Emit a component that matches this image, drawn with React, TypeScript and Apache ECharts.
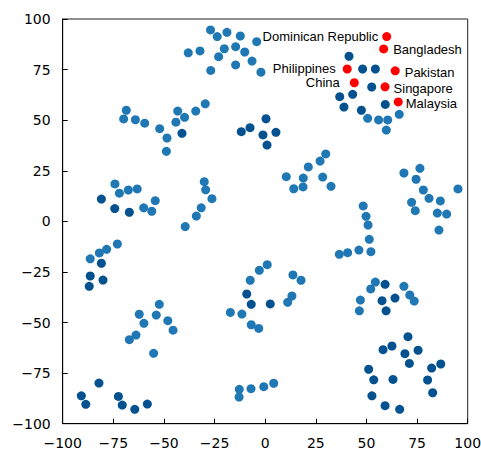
import React, { useEffect, useRef } from "react";
import * as echarts from "echarts";

const xTicks = [-100, -75, -50, -25, 0, 25, 50, 75, 100];
const yTicks = [-100, -75, -50, -25, 0, 25, 50, 75, 100];

const lightPoints: [number, number][] = [
  [-27.0, 94.6], [-23.7, 91.3], [-18.9, 93.4], [-12.3, 91.6], [-4.2, 88.8],
  [-38.0, 83.3], [-32.2, 84.2], [-20.2, 85.3], [-14.6, 86.3], [-10.1, 83.7],
  [-23.0, 81.4], [-14.6, 77.3], [-6.5, 79.2], [-26.9, 74.6], [-2.1, 73.7],
  [-68.6, 54.9], [-69.9, 50.6], [-64.1, 50.2], [-59.5, 48.5], [-52.1, 45.8],
  [-48.5, 41.2], [-48.8, 34.6], [-43.2, 54.5], [-39.8, 51.4], [-44.1, 49.0],
  [-34.3, 54.5], [-29.6, 58.1],
  [-74.2, 18.5], [-72.0, 13.9], [-67.6, 15.5], [-63.2, 16.0], [-60.0, 6.7],
  [-56.0, 5.0], [-54.3, 10.2], [-30.1, 19.6], [-29.4, 15.6], [-26.3, 11.2],
  [-31.6, 6.7], [-34.0, 2.6], [-39.5, -2.6],
  [50.6, 50.9], [56.0, 50.1], [60.5, 50.1], [66.2, 52.9], [59.8, 45.1],
  [29.9, 33.3], [27.1, 29.8], [21.3, 26.9], [10.4, 22.1], [18.8, 21.4],
  [28.4, 21.9], [14.1, 16.1], [18.7, 17.0], [32.5, 17.3],
  [68.5, 23.9], [76.4, 26.2], [74.5, 20.8], [78.1, 15.5], [80.9, 11.4],
  [86.5, 10.1], [95.2, 16.0], [72.3, 9.4], [74.1, 5.3], [85.0, 4.1], [89.6, 3.6],
  [48.4, 7.6], [49.8, 2.5], [50.8, -1.8], [51.4, -8.9], [46.3, -14.2],
  [52.2, -15.0], [36.6, -16.3], [40.7, -15.5], [85.8, -4.3],
  [-86.4, -18.5], [-81.9, -15.6], [-78.3, -13.8], [-73.0, -11.2],
  [-62.2, -45.9], [-53.8, -46.3], [-52.3, -41.0], [-59.9, -50.4], [-48.1, -49.1],
  [-45.5, -53.8], [-63.8, -56.2], [-67.1, -58.5], [-55.1, -65.2],
  [-17.2, -45.0], [-11.5, -45.8], [-7.4, -29.1], [-2.9, -24.2], [1.0, -21.4],
  [-6.9, -51.1], [-3.2, -52.9],
  [-12.8, -83.0], [-12.9, -86.8], [-7.0, -82.7], [-0.7, -81.7], [4.2, -80.0],
  [13.7, -26.5], [17.7, -29.1], [13.2, -36.9], [11.1, -40.0],
  [54.4, -30.0], [52.1, -33.4], [47.0, -38.9], [46.5, -44.2],
  [68.5, -32.1], [71.4, -36.4], [73.6, -39.4],
];

const darkPoints: [number, number][] = [
  [-41.1, 43.5],
  [-11.8, 44.3], [-7.5, 46.3], [-1.1, 42.7], [0.4, 50.7], [0.9, 37.7], [5.3, 44.0],
  [-80.9, 11.0], [-74.3, 6.3], [-67.1, 4.5],
  [41.4, 81.6], [48.1, 75.3], [54.4, 75.3], [52.6, 66.4], [43.2, 62.8],
  [36.8, 61.6], [38.9, 56.5], [59.3, 57.8], [47.5, 54.9],
  [-80.9, -20.7], [-86.4, -27.0], [-86.9, -32.1], [-80.1, -29.0],
  [-90.8, -86.2], [-88.6, -90.4], [-82.1, -79.9], [-72.5, -86.5], [-70.6, -90.8],
  [-64.4, -92.9], [-58.2, -90.3],
  [-9.1, -35.9], [-6.9, -41.0], [2.5, -40.8],
  [59.2, -31.1], [57.7, -39.2], [64.1, -37.9], [59.7, -44.2],
  [70.5, -57.0], [58.2, -63.4], [62.6, -61.6], [69.0, -65.4], [75.5, -63.7],
  [71.2, -70.2], [82.2, -72.5], [86.7, -70.5], [51.1, -73.1], [53.6, -78.3],
  [63.1, -78.1], [80.2, -78.4], [82.7, -84.7], [52.7, -86.2], [59.2, -91.1],
  [66.4, -92.9],
];

const countries = ["Dominican Republic", "Bangladesh", "Philippines", "Pakistan", "China", "Singapore", "Malaysia"];
const countryX = [60.0, 58.5, 40.5, 64.2, 44.0, 59.2, 65.7];
const countryY = [91.3, 85.2, 75.3, 74.4, 68.5, 66.5, 59.0];
const labelSide = ["left", "right", "left", "right", "left", "right", "right"];

const fmt = (v: number) => String(v).replace("-", "\u2212");

export default function App() {
  const ref = useRef<HTMLDivElement>(null);
  useEffect(() => {
    if (!ref.current) return;
    const chart = echarts.init(ref.current, undefined, { renderer: "svg" });
    const labelExtra: Record<string, any> = {
      "Dominican Republic": { distance: 4, offset: [0, 0] },
      Bangladesh: { distance: 5, offset: [0, 1] },
      Philippines: { distance: 7, offset: [0, 0] },
      Pakistan: { distance: 5, offset: [0, 2] },
      China: { distance: 10, offset: [0, 0] },
      Singapore: { distance: 4, offset: [0, 2] },
      Malaysia: { distance: 3, offset: [0, 2] },
    };
    const redData = countries.map((name, i) => ({
      name,
      value: [countryX[i], countryY[i]],
      label: { position: labelSide[i], ...labelExtra[name] },
    }));
    const axisCommon = {
      type: "value" as const,
      min: xTicks[0],
      max: xTicks[xTicks.length - 1],
      interval: 25,
      axisLine: { show: true, onZero: false, lineStyle: { color: "#000", width: 1 } },
      axisTick: { show: true, inside: true, length: 5, lineStyle: { color: "#000" } },
      splitLine: { show: false },
      axisLabel: {
        color: "#000",
        fontFamily: "DejaVu Sans",
        fontSize: 14,
        formatter: (v: number) => fmt(v),
        showMinLabel: true,
        showMaxLabel: true,
      },
    };
    chart.setOption({
      animation: false,
      backgroundColor: "#fff",
      grid: {
        left: 62.7,
        right: 13.3,
        top: 19,
        bottom: 27.3,
        show: true,
        borderColor: "#222",
        borderWidth: 1,
        containLabel: false,
        outerBoundsMode: "none",
      },
      xAxis: { ...axisCommon, axisLabel: { ...axisCommon.axisLabel, margin: 12 } },
      yAxis: {
        ...axisCommon,
        min: yTicks[0],
        max: yTicks[yTicks.length - 1],
        axisLabel: { ...axisCommon.axisLabel, margin: 12 },
      },
      series: [
        {
          type: "scatter",
          data: lightPoints,
          symbolSize: 9,
          itemStyle: { color: "#1f77b4", opacity: 1 },
        },
        {
          type: "scatter",
          data: darkPoints,
          symbolSize: 9,
          itemStyle: { color: "#03518f", opacity: 1 },
        },
        {
          type: "scatter",
          data: redData,
          symbolSize: 9,
          itemStyle: { color: "#ff0000", opacity: 1 },
          label: {
            show: true,
            formatter: "{b}",
            color: "#000",
            fontFamily: "Liberation Sans",
            fontSize: 13,
          },
        },
      ],
    });
    return () => chart.dispose();
  }, []);
  return (
    <div
      ref={ref}
      style={{ position: "fixed", left: 0, top: 0, width: 481, height: 451 }}
    />
  );
}
